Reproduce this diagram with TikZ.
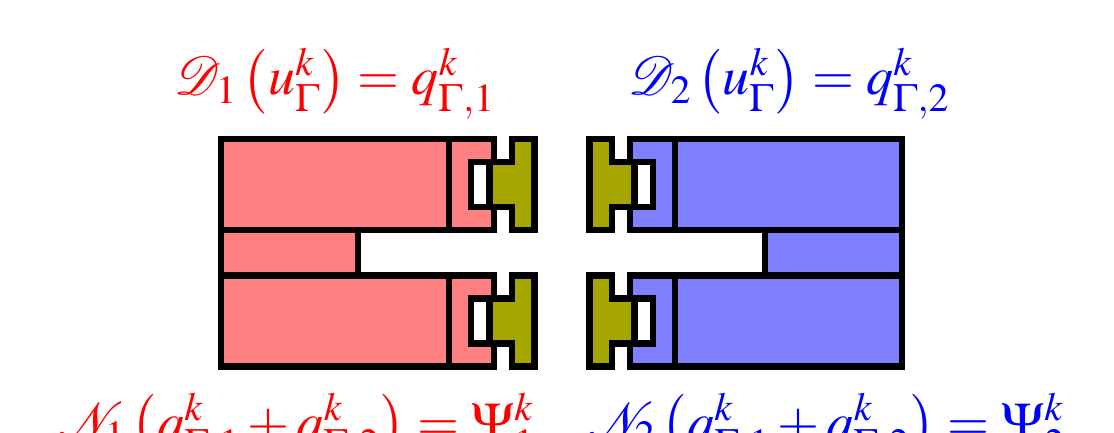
\documentclass[tikz,border=0pt]{standalone}
\usepackage{mathptmx}
\usepackage{mathrsfs}
\DeclareFontFamily{U}{rsfs}{\skewchar\font127 }
\DeclareFontShape{U}{rsfs}{m}{n}{<-> rsfs10}{}
\definecolor{pinkfill}{HTML}{FF8080}
\definecolor{bluefill}{HTML}{8080FF}
\definecolor{olivefill}{HTML}{A6A600}
\newcommand{\lpar}{\mathopen{\left(\vphantom{u_\Gamma^k}\right.}}
\newcommand{\rpar}{\mathclose{\left.\vphantom{u_\Gamma^k}\right)}}
\tikzset{
  part/.style={draw=black,line width=6.5pt,line join=miter},
  eq/.style={inner sep=0pt,anchor=base west,font=\fontsize{54}{65}\selectfont},
}
\begin{document}
\begin{tikzpicture}[x=1pt,y=-1pt]
\useasboundingbox (0,0) rectangle (1114,433);
\clip (0,0) rectangle (1114,433);
\fill[white] (0,0) rectangle (1114,433);
\path[part,fill=pinkfill] (221,230) rectangle (358,275);
\path[part,fill=bluefill] (765,230) rectangle (902,275);
\foreach \dy in {0,136.3}{
  \begin{scope}[yshift=-\dy pt]
  \path[part,fill=pinkfill] (221,139) rectangle (449,230);
  \path[part,fill=pinkfill] (449,139) -- (494,139) -- (494,162) -- (471,162) -- (471,207) -- (494,207) -- (494,230) -- (449,230) -- cycle;
  \path[part,fill=olivefill] (489.7,162) -- (512,162) -- (512,139) -- (534.7,139) -- (534.7,230) -- (512,230) -- (512,207) -- (489.7,207) -- cycle;
  \path[part,fill=bluefill] (675,139) rectangle (902,230);
  \path[part,fill=bluefill] (675,139) -- (630,139) -- (630,162) -- (653,162) -- (653,207) -- (630,207) -- (630,230) -- (675,230) -- cycle;
  \path[part,fill=olivefill] (634.3,162) -- (612,162) -- (612,139) -- (589.3,139) -- (589.3,230) -- (612,230) -- (612,207) -- (634.3,207) -- cycle;
  \end{scope}
}
\node[eq,text=red] (d1) at (174,95) {$\mathscr{D}_1\,\lpar u_\Gamma^k\rpar=q_{\Gamma,1}^k$};
\node[eq,text=blue] (d2) at (628.5,95) {$\mathscr{D}_2\,\lpar u_\Gamma^k\rpar=q_{\Gamma,2}^k$};
\node[eq,text=red] (n1) at (56,440) {$\mathscr{N}_1\,\lpar q_{\Gamma,1}^k+q_{\Gamma,2}^k\rpar=\Psi_1^k$};
\node[eq,text=blue] (n2) at (586,440) {$\mathscr{N}_2\,\lpar q_{\Gamma,1}^k+q_{\Gamma,2}^k\rpar=\Psi_2^k$};
\end{tikzpicture}
\end{document}
